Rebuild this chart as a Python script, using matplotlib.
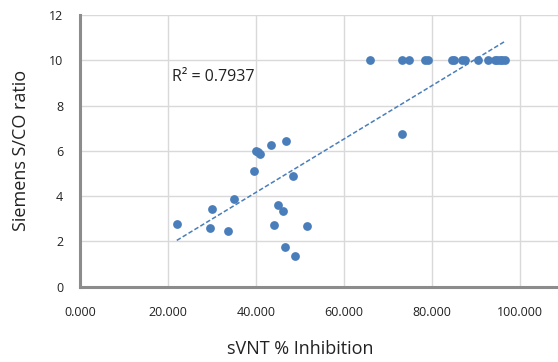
import numpy as np
import matplotlib.pyplot as plt

# sVNT % inhibition vs Siemens S/CO ratio
svnt = [22.0, 29.9, 29.6, 33.7, 35.0, 39.5, 39.9, 40.5, 40.9, 43.4, 46.8, 48.4,
        45.1, 46.1, 44.2, 46.6, 48.8, 51.7, 73.1,
        65.8, 73.1, 74.8, 78.4, 79.2, 84.5, 85.0, 86.9, 87.4, 90.4, 92.7,
        94.3, 94.8, 95.5, 96.0, 96.6]
siemens = [2.75, 3.42, 2.60, 2.48, 3.86, 5.10, 5.98, 5.95, 5.88, 6.26, 6.42, 4.90,
           3.62, 3.33, 2.72, 1.77, 1.37, 2.70, 6.73,
           10, 10, 10, 10, 10, 10, 10, 10, 10, 10, 10,
           10, 10, 10, 10, 10]
r2_text = "R\u00b2 = 0.7937"

plt.rcParams['font.family'] = ['Open Sans', 'DejaVu Sans']

fig = plt.figure(figsize=(5.58, 3.62), dpi=100)
ax = fig.add_axes([80 / 558, 75.3 / 362, 528 / 558, 271.7 / 362])

blue = '#4a7ebb'
ax.scatter(svnt, siemens, s=40, color=blue, zorder=3, linewidths=0)

x = np.array(svnt)
y = np.array(siemens)
k, b = np.polyfit(x, y, 1)
xs = np.array([x.min(), x.max()])
ax.plot(xs, k * xs + b, color=blue, linestyle=(0, (3, 1.5)), linewidth=1.1, zorder=2)

ax.text(21, 9.25, r2_text, fontsize=11.5, color='#222222', va='center')

ax.set_xlim(0, 120)
ax.set_ylim(0, 12)
ax.set_xticks([0, 20, 40, 60, 80, 100, 120])
ax.set_xticklabels(['0.000', '20.000', '40.000', '60.000', '80.000', '100.000', ''])
ax.set_yticks(range(0, 13, 2))
ax.grid(True, color='#d9d9d9', linewidth=1)
ax.set_axisbelow(True)
ax.tick_params(length=0, labelsize=9, colors='#222222')
ax.tick_params(axis='x', pad=14)
ax.tick_params(axis='y', pad=12)

for s in ['top', 'right']:
    ax.spines[s].set_visible(False)
for s in ['left', 'bottom']:
    ax.spines[s].set_color('#8c8c8c')
    ax.spines[s].set_linewidth(2.2)

ax.set_xlabel('sVNT % Inhibition', fontsize=13, color='#222222')
ax.set_ylabel('Siemens S/CO ratio', fontsize=13, color='#222222', labelpad=14)
ax.xaxis.label.set_va('center')
ax.xaxis.set_label_coords(220 / 528, -62 / 271.7)

fig.savefig('out.png', dpi=100)
